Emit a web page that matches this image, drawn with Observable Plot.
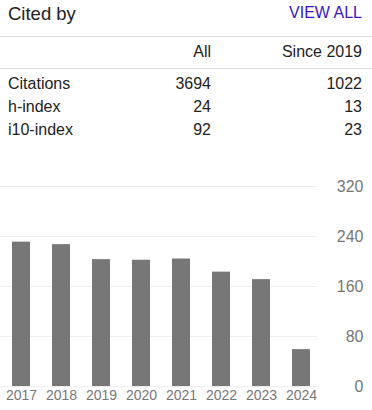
<!DOCTYPE html>
<html>
<head>
<meta charset="utf-8">
<script src="https://cdn.jsdelivr.net/npm/d3@7"></script>
<script src="https://cdn.jsdelivr.net/npm/@observablehq/plot@0.6"></script>
<style>
  html, body { margin: 0; padding: 0; background: #fff; }
  body { width: 372px; height: 410px; position: relative; overflow: hidden;
         font-family: Arial, "Liberation Sans", sans-serif; color: #222; }
  .t { position: absolute; line-height: 1; white-space: nowrap; }
  .r { text-align: right; }
  .sep { position: absolute; left: 0; width: 372px; height: 1px; background: #e0e0e0; }
  #chart { position: absolute; left: 0; top: 170px; }
</style>
</head>
<body>
<div id="header"></div>
<div id="chart"></div>
<script>
const title = "Cited by";
const linkText = "VIEW ALL";
const columns = ["All", "Since 2019"];
const metrics = ["Citations", "h-index", "i10-index"];
const allValues = [3694, 24, 92];
const since2019Values = [1022, 13, 23];

const years = ["2017", "2018", "2019", "2020", "2021", "2022", "2023", "2024"];
const citations = [231, 227, 203, 202, 204, 183, 171, 59];
const yTicks = [0, 80, 160, 240, 320];

// Header table (HTML)
const header = document.getElementById("header");
function addText(text, style, cls) {
  const d = document.createElement("div");
  d.className = "t" + (cls ? " " + cls : "");
  d.textContent = text;
  Object.assign(d.style, style);
  header.appendChild(d);
  return d;
}
addText(title, {left: "8px", top: "5px", fontSize: "18.5px"});
addText(linkText, {right: "10px", top: "5px", fontSize: "16px", color: "#3b16c0"}, "r");
const s1 = document.createElement("div"); s1.className = "sep"; s1.style.top = "36px"; header.appendChild(s1);
addText(columns[0], {right: "161px", top: "43.5px", fontSize: "16px"}, "r");
addText(columns[1], {right: "10px", top: "43.5px", fontSize: "16px"}, "r");
const s2 = document.createElement("div"); s2.className = "sep"; s2.style.top = "68px"; header.appendChild(s2);
const rowTops = [76, 99, 121.5];
metrics.forEach((m, i) => {
  addText(m, {left: "8px", top: rowTops[i] + "px", fontSize: "16px"});
  addText(String(allValues[i]), {right: "161px", top: rowTops[i] + "px", fontSize: "16px"}, "r");
  addText(String(since2019Values[i]), {right: "10px", top: rowTops[i] + "px", fontSize: "16px"}, "r");
});

// Bar chart
const data = years.map((y, i) => ({year: y, value: citations[i]}));
const chart = Plot.plot({
  width: 372,
  height: 240,
  marginTop: 16,
  marginBottom: 24,
  marginLeft: 0,
  marginRight: 55,
  style: {fontFamily: "Arial, 'Liberation Sans', sans-serif", background: "transparent", overflow: "visible"},
  x: {domain: years, range: [3, 319], paddingInner: 0.55, paddingOuter: 0.225, label: null},
  y: {domain: [0, 320], label: null},
  marks: [
    Plot.ruleY(yTicks, {stroke: "#eeeeee", strokeWidth: 1}),
    Plot.barY(data, {x: "year", y: "value", fill: "#777777"}),
    Plot.axisX({tickSize: 0, tickPadding: 4, fontSize: 14, fill: "#777777", label: null}),
    Plot.axisY(yTicks, {anchor: "right", tickSize: 0, tickPadding: 46, textAnchor: "end", fontSize: 16, fill: "#777777", label: null})
  ]
});
document.getElementById("chart").appendChild(chart);
</script>
</body>
</html>
